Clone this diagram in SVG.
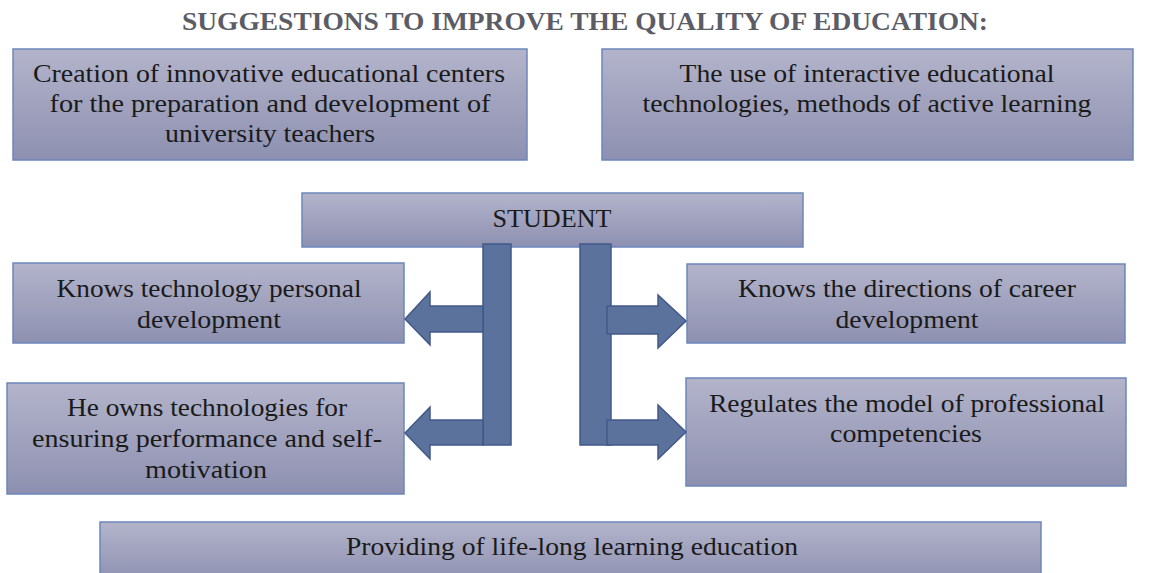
<svg xmlns="http://www.w3.org/2000/svg" width="1154" height="573" viewBox="0 0 1154 573">
<defs>
<linearGradient id="boxg" x1="0" y1="0" x2="0" y2="1">
<stop offset="0" stop-color="#b3b4cb"/>
<stop offset="1" stop-color="#8d90b0"/>
</linearGradient>
<style>
.box{fill:url(#boxg);stroke:#6d86ba;stroke-width:1.5}
.t{font-family:"Liberation Serif","Times New Roman",serif;font-size:26px;fill:#1a1a1a;text-anchor:middle}
.title{font-family:"Liberation Serif","Times New Roman",serif;font-size:26px;font-weight:bold;fill:#5c5c66;text-anchor:middle}
.arr{fill:#5a729c;stroke:#42598a;stroke-width:1.5;stroke-linejoin:miter}
</style>
</defs>
<rect width="1154" height="573" fill="#ffffff"/>
<text class="title" x="585" y="30" textLength="806" lengthAdjust="spacingAndGlyphs">SUGGESTIONS TO IMPROVE THE QUALITY OF EDUCATION:</text>

<g id="box-centers">
<rect class="box" x="13" y="49" width="514" height="111"/>
<text class="t" x="269" y="82" textLength="472" lengthAdjust="spacingAndGlyphs">Creation of innovative educational centers</text>
<text class="t" x="270" y="112" textLength="441" lengthAdjust="spacingAndGlyphs">for the preparation and development of</text>
<text class="t" x="270" y="142" textLength="210" lengthAdjust="spacingAndGlyphs">university teachers</text>
</g>

<g id="box-interactive">
<rect class="box" x="602" y="49" width="531" height="111"/>
<text class="t" x="867" y="82" textLength="375" lengthAdjust="spacingAndGlyphs">The use of interactive educational</text>
<text class="t" x="867" y="112" textLength="449" lengthAdjust="spacingAndGlyphs">technologies, methods of active learning</text>
</g>

<g id="box-student">
<rect class="box" x="302" y="193" width="501" height="54"/>
<text class="t" x="552" y="227" textLength="119" lengthAdjust="spacingAndGlyphs">STUDENT</text>
</g>

<g id="box-knows-tech">
<rect class="box" x="13" y="263" width="391" height="80"/>
<text class="t" x="209" y="297" textLength="305" lengthAdjust="spacingAndGlyphs">Knows technology personal</text>
<text class="t" x="209" y="328" textLength="144" lengthAdjust="spacingAndGlyphs">development</text>
</g>

<g id="box-owns-tech">
<rect class="box" x="7" y="383" width="397" height="111"/>
<text class="t" x="207" y="416" textLength="280" lengthAdjust="spacingAndGlyphs">He owns technologies for</text>
<text class="t" x="207" y="447" textLength="350" lengthAdjust="spacingAndGlyphs">ensuring performance and self-</text>
<text class="t" x="206" y="478" textLength="122" lengthAdjust="spacingAndGlyphs">motivation</text>
</g>

<g id="box-career">
<rect class="box" x="687" y="264" width="438" height="79"/>
<text class="t" x="907" y="297" textLength="338" lengthAdjust="spacingAndGlyphs">Knows the directions of career</text>
<text class="t" x="907" y="328" textLength="143" lengthAdjust="spacingAndGlyphs">development</text>
</g>

<g id="box-competencies">
<rect class="box" x="686" y="378" width="440" height="108"/>
<text class="t" x="907" y="412" textLength="396" lengthAdjust="spacingAndGlyphs">Regulates the model of professional</text>
<text class="t" x="906" y="442" textLength="152" lengthAdjust="spacingAndGlyphs">competencies</text>
</g>

<g id="box-lifelong">
<rect class="box" x="100" y="522" width="941" height="60"/>
<text class="t" x="572" y="555" textLength="452" lengthAdjust="spacingAndGlyphs">Providing of life-long learning education</text>
</g>

<g id="connectors">
<rect class="arr" x="483" y="244" width="28" height="201"/>
<path class="arr" d="M483,306 L430,306 L430,292 L405,319 L430,345 L430,332 L483,332 Z"/>
<path class="arr" d="M483,420 L430,420 L430,407 L405,433 L430,459 L430,445 L483,445 Z"/>
<rect class="arr" x="580" y="244" width="31" height="201"/>
<path class="arr" d="M607,306 L658,306 L658,295 L686,321 L658,348 L658,334 L607,334 Z"/>
<path class="arr" d="M607,420 L658,420 L658,405 L686,432 L658,459 L658,445 L607,445 Z"/>
</g>
</svg>
